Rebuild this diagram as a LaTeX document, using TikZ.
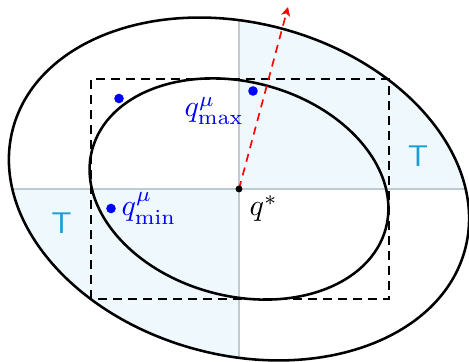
\documentclass[tikz,border=0pt]{standalone}
\usetikzlibrary{arrows.meta}
\definecolor{shadecol}{RGB}{239,248,253}
\definecolor{axiscol}{RGB}{192,202,208}
\definecolor{tcol}{RGB}{22,160,210}
\begin{document}
\begin{tikzpicture}[x=0.33333pt,y=0.33333pt,
  ell/.style={line width=0.85pt},
  axisline/.style={draw=axiscol,line width=0.4pt},
  boxline/.style={line width=0.7pt,dash pattern=on 3pt off 2pt},
  dir/.style={red,line width=0.55pt,dash pattern=on 2.7pt off 2pt,-{Stealth[length=3pt,width=3pt,inset=0.8pt]}},
  bdot/.style={circle,fill=blue,inner sep=0pt,minimum size=3.2pt},
  kdot/.style={circle,fill=black,inner sep=0pt,minimum size=2.3pt},
  lab/.style={inner sep=0pt,text=blue},
  tlab/.style={inner sep=0pt,text=tcol,font=\sffamily}]
\useasboundingbox (0,0) rectangle (469,362);
\coordinate (qs) at (239,173);
% shaded quadrants clipped to outer ellipse
\begin{scope}
  \clip[rotate around={-15:(qs)}] (qs) ellipse [x radius=234, y radius=166];
  \fill[shadecol] (qs) rectangle (480,370);
  \fill[shadecol] (qs) rectangle (-10,-10);
  \draw[axisline] (-10,173) -- (480,173);
  \draw[axisline] (239,-10) -- (239,370);
\end{scope}
% ellipses
\draw[ell,rotate around={-15:(qs)}] (qs) ellipse [x radius=234, y radius=166];
\draw[ell,rotate around={-15:(qs)}] (qs) ellipse [x radius=152, y radius=107];
% dashed box
\draw[boxline] (91,63) rectangle (389,283);
% direction arrow
\coordinate (tip) at (288,355);
\draw[dir] (qs) -- (tip);
% points
\node[kdot] (qstar) at (qs) {};
\node[bdot] (p1) at (119,263.5) {};
\node[bdot] (p2) at (253,271) {};
\node[bdot] (p3) at (111,153.5) {};
% labels
\node[inner sep=0pt,anchor=base west] (lqs) at (249,146) {$q^*$};
\node[lab,anchor=base west] (lmax) at (184,245) {$q^\mu_{\max}$};
\node[lab,anchor=base west] (lmin) at (121,146) {$q^\mu_{\min}$};
\node[tlab] (t1) at (418,205.5) {T};
\node[tlab] (t2) at (61.5,139) {T};
\end{tikzpicture}
\end{document}
